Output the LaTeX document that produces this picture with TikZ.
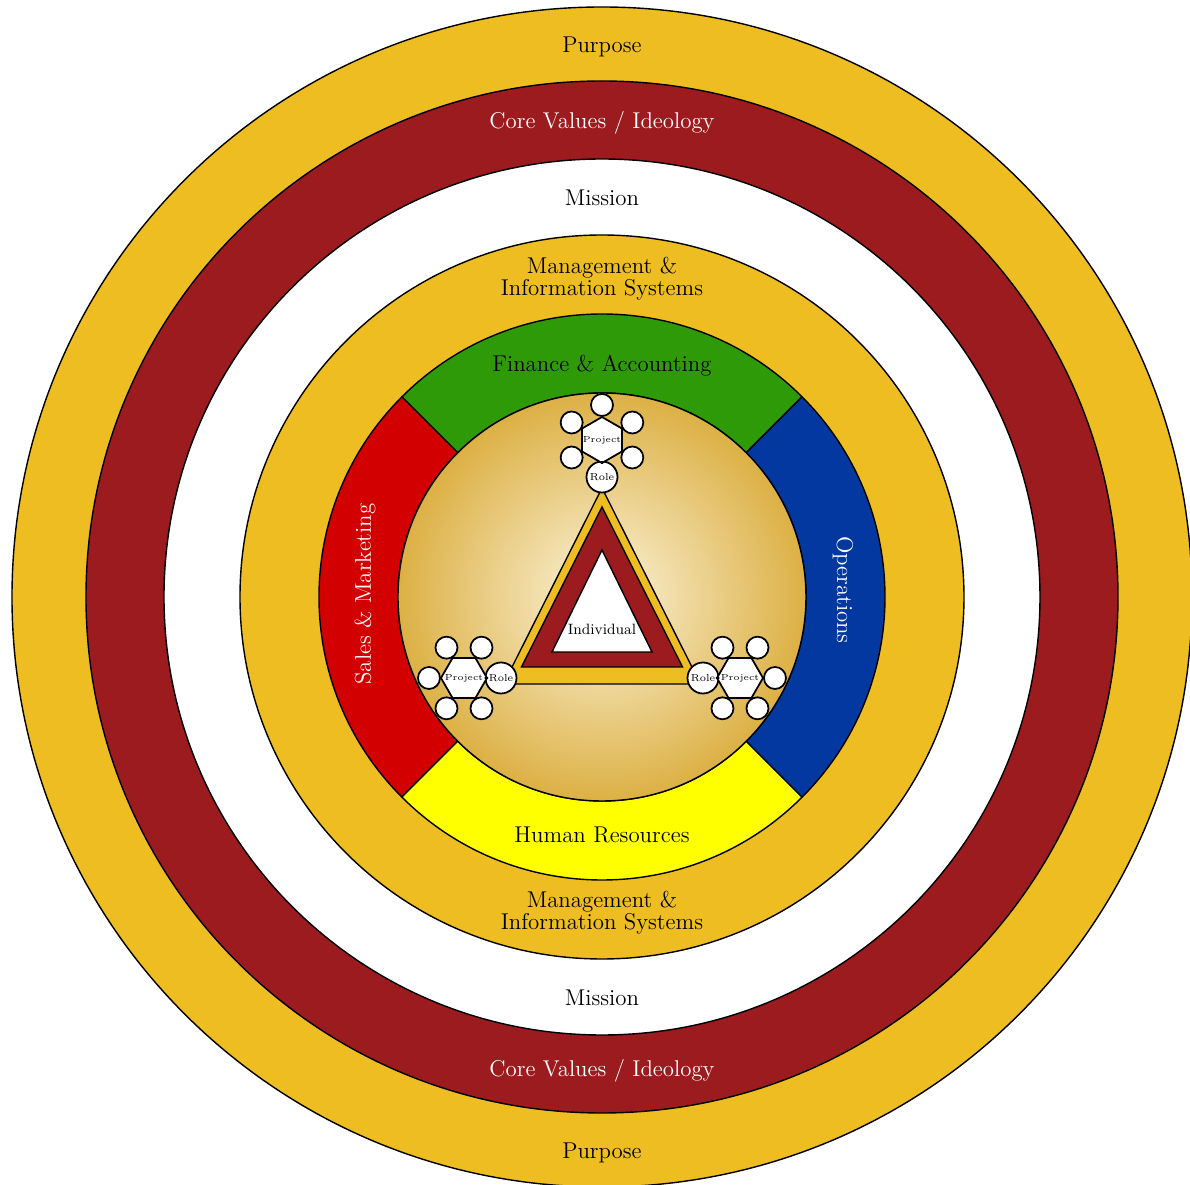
\documentclass[tikz,border=0pt]{standalone}
\usepackage{tikz}
\usetikzlibrary{shapes.geometric,calc}
\definecolor{ringgold}{HTML}{EEBD22}
\definecolor{ringred}{HTML}{9B1B1F}
\definecolor{fingreen}{HTML}{2F9A08}
\definecolor{salesred}{HTML}{D20000}
\definecolor{opsblue}{HTML}{0238A0}
\definecolor{hryellow}{HTML}{FFFF00}
\definecolor{coregold}{HTML}{DCB044}
\definecolor{corecream}{HTML}{FCF4DC}

\begin{document}
\begin{tikzpicture}[
  ring/.style={draw=black,line width=0.8pt},
  lbl/.style={font=\fontsize{13}{12.5}\selectfont,align=center,inner sep=0pt},
  role/.style={circle,draw=black,line width=1pt,fill=white,minimum size=6.2mm,inner sep=0pt,font=\fontsize{5.8}{6}\selectfont},
  sat/.style={circle,draw=black,line width=1pt,fill=white,minimum size=4.4mm,inner sep=0pt},
  proj/.style={regular polygon,regular polygon sides=6,draw=black,line width=1pt,fill=white,minimum size=9.2mm,inner sep=0pt,font=\fontsize{5}{6}\selectfont}
]
\useasboundingbox[fill=white] (-12.04,-11.76) rectangle (11.76,11.94);

\draw[ring,fill=ringgold] (0,0) circle[radius=11.80];
\draw[ring,fill=ringred] (0,0) circle[radius=10.32];
\draw[ring,fill=white] (0,0) circle[radius=8.76];
\draw[ring,fill=ringgold] (0,0) circle[radius=7.24];

\draw[ring,fill=fingreen] (45:5.66) arc[start angle=45,end angle=135,radius=5.66] -- (135:4.08) arc[start angle=135,end angle=45,radius=4.08] -- cycle;
\draw[ring,fill=salesred] (135:5.66) arc[start angle=135,end angle=225,radius=5.66] -- (225:4.08) arc[start angle=225,end angle=135,radius=4.08] -- cycle;
\draw[ring,fill=hryellow] (225:5.66) arc[start angle=225,end angle=315,radius=5.66] -- (315:4.08) arc[start angle=315,end angle=225,radius=4.08] -- cycle;
\draw[ring,fill=opsblue] (-45:5.66) arc[start angle=-45,end angle=45,radius=5.66] -- (45:4.08) arc[start angle=45,end angle=-45,radius=4.08] -- cycle;
\shade[inner color=corecream,outer color=coregold] (0,0) circle[radius=4.08];
\draw[ring] (0,0) circle[radius=4.08];

\node[lbl] (purposetop) at (0,11.00) {Purpose};
\node[lbl,text=white] (coretop) at (0,9.48) {Core Values / Ideology};
\node[lbl] (missiontop) at (0,7.98) {Mission};
\node[lbl] (mistop) at (0,6.36) {Management \&\\Information Systems};
\node[lbl] (finance) at (0,4.62) {Finance \& Accounting};
\node[lbl,text=white,rotate=90] (sales) at (-4.74,0.06) {Sales \& Marketing};
\node[lbl,text=white,rotate=-90] (ops) at (4.82,0.14) {Operations};
\node[lbl] (hr) at (0,-4.76) {Human Resources};
\node[lbl] (misbot) at (0,-6.32) {Management \&\\Information Systems};
\node[lbl] (missionbot) at (0,-8.02) {Mission};
\node[lbl,text=white] (corebot) at (0,-9.48) {Core Values / Ideology};
\node[lbl] (purposebot) at (0,-11.12) {Purpose};

\draw[ring,fill=ringgold] (0,2.18) -- (-1.97,-1.74) -- (1.97,-1.74) -- cycle;
\draw[ring,fill=ringred] (0,1.80) -- (-1.61,-1.40) -- (1.61,-1.40) -- cycle;
\draw[ring,fill=white] (0,0.94) -- (-1.00,-1.10) -- (1.00,-1.10) -- cycle;
\node[font=\fontsize{8.5}{9}\selectfont] (indiv) at (0,-0.64) {Individual};

\node[role] (roletop) at (0,2.40) {Role};
\node[proj,regular polygon rotate=30] (projtop) at (0,3.14) {\makebox[0pt]{Project}};
\foreach \a in {30,90,150,210,330}
  \node[sat] (ptop\a) at ($(projtop)+(\a:0.70)$) {};
\foreach \a in {30,90,150,210,330}
  \draw[line width=1pt] (projtop) -- (ptop\a);
\draw[line width=1pt] (projtop) -- (roletop);

\node[role] (roleleft) at (-2.02,-1.62) {Role};
\node[proj] (projleft) at (-2.76,-1.62) {\makebox[0pt]{Project}};
\foreach \a in {60,120,180,240,300}
  \node[sat] (pleft\a) at ($(projleft)+(\a:0.70)$) {};
\foreach \a in {60,120,180,240,300}
  \draw[line width=1pt] (projleft) -- (pleft\a);
\draw[line width=1pt] (projleft) -- (roleleft);

\node[role] (roleright) at (2.02,-1.62) {Role};
\node[proj] (projright) at (2.76,-1.62) {\makebox[0pt]{Project}};
\foreach \a in {0,60,120,240,300}
  \node[sat] (pright\a) at ($(projright)+(\a:0.70)$) {};
\foreach \a in {0,60,120,240,300}
  \draw[line width=1pt] (projright) -- (pright\a);
\draw[line width=1pt] (projright) -- (roleright);
\end{tikzpicture}
\end{document}
